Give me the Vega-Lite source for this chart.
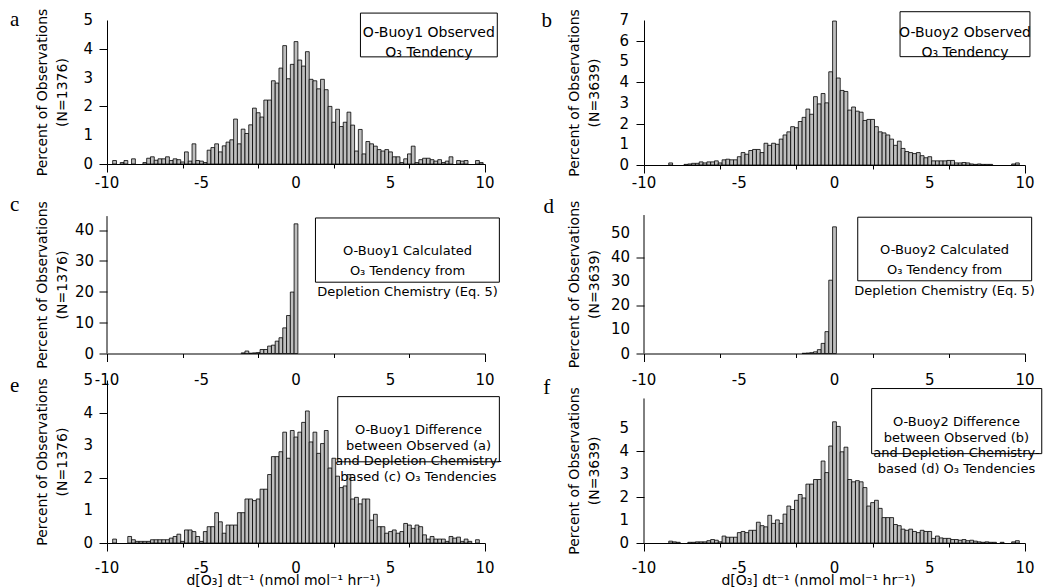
{
"$schema": "https://vega.github.io/schema/vega-lite/v6.json",
"padding": {"left": 10, "top": 8, "right": 0, "bottom": 0},
"background": "white",
"datasets": {"h": [
{"p":"a","x":-9.6,"pct":0.12},{"p":"a","x":-9.2,"pct":0.05},{"p":"a","x":-9.0,"pct":0.12},{"p":"a","x":-8.6,"pct":0.18},{"p":"a","x":-8.0,"pct":0.05},{"p":"a","x":-7.8,"pct":0.2},{"p":"a","x":-7.6,"pct":0.25},{"p":"a","x":-7.4,"pct":0.13},{"p":"a","x":-7.2,"pct":0.18},{"p":"a","x":-7.0,"pct":0.18},{"p":"a","x":-6.8,"pct":0.25},{"p":"a","x":-6.6,"pct":0.12},{"p":"a","x":-6.4,"pct":0.18},{"p":"a","x":-6.2,"pct":0.15},{"p":"a","x":-6.0,"pct":0.07},{"p":"a","x":-5.8,"pct":0.42},{"p":"a","x":-5.6,"pct":0.1},{"p":"a","x":-5.4,"pct":0.7},{"p":"a","x":-5.2,"pct":0.12},{"p":"a","x":-5.0,"pct":0.1},{"p":"a","x":-4.8,"pct":0.05},{"p":"a","x":-4.6,"pct":0.48},{"p":"a","x":-4.4,"pct":0.57},{"p":"a","x":-4.2,"pct":0.7},{"p":"a","x":-4.0,"pct":0.42},{"p":"a","x":-3.8,"pct":0.63},{"p":"a","x":-3.6,"pct":0.76},{"p":"a","x":-3.4,"pct":0.84},{"p":"a","x":-3.2,"pct":1.56},{"p":"a","x":-3.0,"pct":0.7},{"p":"a","x":-2.8,"pct":1.21},{"p":"a","x":-2.6,"pct":1.06},{"p":"a","x":-2.4,"pct":1.36},{"p":"a","x":-2.2,"pct":1.94},{"p":"a","x":-2.0,"pct":1.78},{"p":"a","x":-1.8,"pct":1.63},{"p":"a","x":-1.6,"pct":2.22},{"p":"a","x":-1.4,"pct":2.22},{"p":"a","x":-1.2,"pct":2.89},{"p":"a","x":-1.0,"pct":2.81},{"p":"a","x":-0.8,"pct":3.33},{"p":"a","x":-0.6,"pct":4.11},{"p":"a","x":-0.4,"pct":2.96},{"p":"a","x":-0.2,"pct":3.46},{"p":"a","x":0,"pct":4.25},{"p":"a","x":0.2,"pct":3.61},{"p":"a","x":0.4,"pct":3.4},{"p":"a","x":0.6,"pct":3.9},{"p":"a","x":0.8,"pct":2.94},{"p":"a","x":1.0,"pct":2.89},{"p":"a","x":1.2,"pct":2.61},{"p":"a","x":1.4,"pct":2.94},{"p":"a","x":1.6,"pct":2.58},{"p":"a","x":1.8,"pct":2.0},{"p":"a","x":2.0,"pct":1.45},{"p":"a","x":2.2,"pct":1.9},{"p":"a","x":2.4,"pct":1.3},{"p":"a","x":2.6,"pct":1.45},{"p":"a","x":2.8,"pct":1.8},{"p":"a","x":3.0,"pct":1.35},{"p":"a","x":3.2,"pct":0.45},{"p":"a","x":3.4,"pct":1.2},{"p":"a","x":3.6,"pct":0.35},{"p":"a","x":3.8,"pct":0.78},{"p":"a","x":4.0,"pct":0.7},{"p":"a","x":4.2,"pct":0.62},{"p":"a","x":4.4,"pct":0.5},{"p":"a","x":4.6,"pct":0.45},{"p":"a","x":4.8,"pct":0.5},{"p":"a","x":5.0,"pct":0.42},{"p":"a","x":5.2,"pct":0.25},{"p":"a","x":5.4,"pct":0.25},{"p":"a","x":5.6,"pct":0.05},{"p":"a","x":5.8,"pct":0.18},{"p":"a","x":6.0,"pct":0.35},{"p":"a","x":6.2,"pct":0.62},{"p":"a","x":6.4,"pct":0.05},{"p":"a","x":6.6,"pct":0.15},{"p":"a","x":6.8,"pct":0.2},{"p":"a","x":7.0,"pct":0.2},{"p":"a","x":7.2,"pct":0.15},{"p":"a","x":7.4,"pct":0.1},{"p":"a","x":7.6,"pct":0.15},{"p":"a","x":7.8,"pct":0.05},{"p":"a","x":8.0,"pct":0.1},{"p":"a","x":8.2,"pct":0.25},{"p":"a","x":8.6,"pct":0.12},{"p":"a","x":8.8,"pct":0.1},{"p":"a","x":9.0,"pct":0.12},{"p":"a","x":9.6,"pct":0.12},{"p":"a","x":9.8,"pct":0.05},
{"p":"b","x":-8.6,"pct":0.1},{"p":"b","x":-7.8,"pct":0.03},{"p":"b","x":-7.6,"pct":0.05},{"p":"b","x":-7.4,"pct":0.08},{"p":"b","x":-7.2,"pct":0.08},{"p":"b","x":-7.0,"pct":0.15},{"p":"b","x":-6.8,"pct":0.1},{"p":"b","x":-6.6,"pct":0.15},{"p":"b","x":-6.4,"pct":0.15},{"p":"b","x":-6.2,"pct":0.2},{"p":"b","x":-6.0,"pct":0.1},{"p":"b","x":-5.8,"pct":0.25},{"p":"b","x":-5.6,"pct":0.28},{"p":"b","x":-5.4,"pct":0.25},{"p":"b","x":-5.2,"pct":0.25},{"p":"b","x":-5.0,"pct":0.4},{"p":"b","x":-4.8,"pct":0.6},{"p":"b","x":-4.6,"pct":0.52},{"p":"b","x":-4.4,"pct":0.7},{"p":"b","x":-4.2,"pct":0.75},{"p":"b","x":-4.0,"pct":0.75},{"p":"b","x":-3.8,"pct":0.6},{"p":"b","x":-3.6,"pct":1.05},{"p":"b","x":-3.4,"pct":0.95},{"p":"b","x":-3.2,"pct":1.05},{"p":"b","x":-3.0,"pct":1.0},{"p":"b","x":-2.8,"pct":1.25},{"p":"b","x":-2.6,"pct":1.45},{"p":"b","x":-2.4,"pct":1.6},{"p":"b","x":-2.2,"pct":1.85},{"p":"b","x":-2.0,"pct":1.8},{"p":"b","x":-1.8,"pct":2.1},{"p":"b","x":-1.6,"pct":2.3},{"p":"b","x":-1.4,"pct":2.7},{"p":"b","x":-1.2,"pct":2.45},{"p":"b","x":-1.0,"pct":3.3},{"p":"b","x":-0.8,"pct":2.95},{"p":"b","x":-0.6,"pct":3.45},{"p":"b","x":-0.4,"pct":3.0},{"p":"b","x":-0.2,"pct":4.5},{"p":"b","x":0,"pct":6.95},{"p":"b","x":0.2,"pct":4.2},{"p":"b","x":0.4,"pct":3.6},{"p":"b","x":0.6,"pct":3.55},{"p":"b","x":0.8,"pct":2.65},{"p":"b","x":1.0,"pct":2.8},{"p":"b","x":1.2,"pct":2.6},{"p":"b","x":1.4,"pct":2.55},{"p":"b","x":1.6,"pct":2.15},{"p":"b","x":1.8,"pct":2.2},{"p":"b","x":2.0,"pct":2.2},{"p":"b","x":2.2,"pct":1.85},{"p":"b","x":2.4,"pct":1.6},{"p":"b","x":2.6,"pct":1.55},{"p":"b","x":2.8,"pct":1.45},{"p":"b","x":3.0,"pct":1.25},{"p":"b","x":3.2,"pct":0.95},{"p":"b","x":3.4,"pct":1.15},{"p":"b","x":3.6,"pct":0.8},{"p":"b","x":3.8,"pct":0.65},{"p":"b","x":4.0,"pct":0.6},{"p":"b","x":4.2,"pct":0.55},{"p":"b","x":4.4,"pct":0.6},{"p":"b","x":4.6,"pct":0.45},{"p":"b","x":4.8,"pct":0.35},{"p":"b","x":5.0,"pct":0.4},{"p":"b","x":5.2,"pct":0.2},{"p":"b","x":5.4,"pct":0.2},{"p":"b","x":5.6,"pct":0.2},{"p":"b","x":5.8,"pct":0.2},{"p":"b","x":6.0,"pct":0.22},{"p":"b","x":6.2,"pct":0.22},{"p":"b","x":6.4,"pct":0.1},{"p":"b","x":6.6,"pct":0.1},{"p":"b","x":6.8,"pct":0.12},{"p":"b","x":7.0,"pct":0.1},{"p":"b","x":7.2,"pct":0.05},{"p":"b","x":7.4,"pct":0.03},{"p":"b","x":7.6,"pct":0.05},{"p":"b","x":7.8,"pct":0.03},{"p":"b","x":8.0,"pct":0.03},{"p":"b","x":8.2,"pct":0.03},{"p":"b","x":9.4,"pct":0.05},{"p":"b","x":9.6,"pct":0.1},
{"p":"c","x":-2.8,"pct":0.2},{"p":"c","x":-2.6,"pct":0.8},{"p":"c","x":-2.4,"pct":0.1},{"p":"c","x":-2.2,"pct":0.2},{"p":"c","x":-2.0,"pct":0.3},{"p":"c","x":-1.8,"pct":1.3},{"p":"c","x":-1.6,"pct":1.3},{"p":"c","x":-1.4,"pct":2.4},{"p":"c","x":-1.2,"pct":2.7},{"p":"c","x":-1.0,"pct":4.0},{"p":"c","x":-0.8,"pct":5.1},{"p":"c","x":-0.6,"pct":8.3},{"p":"c","x":-0.4,"pct":12.3},{"p":"c","x":-0.2,"pct":19.9},{"p":"c","x":0,"pct":42.0},
{"p":"d","x":-1.6,"pct":0.1},{"p":"d","x":-1.4,"pct":0.2},{"p":"d","x":-1.2,"pct":0.35},{"p":"d","x":-1.0,"pct":0.7},{"p":"d","x":-0.8,"pct":1.6},{"p":"d","x":-0.6,"pct":4.2},{"p":"d","x":-0.4,"pct":9.1},{"p":"d","x":-0.2,"pct":30.5},{"p":"d","x":0,"pct":52.7},
{"p":"e","x":-9.6,"pct":0.12},{"p":"e","x":-8.8,"pct":0.2},{"p":"e","x":-8.6,"pct":0.1},{"p":"e","x":-8.4,"pct":0.05},{"p":"e","x":-8.2,"pct":0.05},{"p":"e","x":-8.0,"pct":0.05},{"p":"e","x":-7.8,"pct":0.05},{"p":"e","x":-7.6,"pct":0.1},{"p":"e","x":-7.4,"pct":0.1},{"p":"e","x":-7.2,"pct":0.1},{"p":"e","x":-7.0,"pct":0.1},{"p":"e","x":-6.8,"pct":0.1},{"p":"e","x":-6.6,"pct":0.15},{"p":"e","x":-6.4,"pct":0.2},{"p":"e","x":-6.2,"pct":0.27},{"p":"e","x":-6.0,"pct":0.05},{"p":"e","x":-5.8,"pct":0.4},{"p":"e","x":-5.6,"pct":0.4},{"p":"e","x":-5.4,"pct":0.35},{"p":"e","x":-5.2,"pct":0.2},{"p":"e","x":-5.0,"pct":0.05},{"p":"e","x":-4.8,"pct":0.35},{"p":"e","x":-4.6,"pct":0.5},{"p":"e","x":-4.4,"pct":0.5},{"p":"e","x":-4.2,"pct":0.93},{"p":"e","x":-4.0,"pct":0.65},{"p":"e","x":-3.8,"pct":0.3},{"p":"e","x":-3.6,"pct":0.55},{"p":"e","x":-3.4,"pct":0.55},{"p":"e","x":-3.2,"pct":0.55},{"p":"e","x":-3.0,"pct":0.93},{"p":"e","x":-2.8,"pct":0.93},{"p":"e","x":-2.6,"pct":1.35},{"p":"e","x":-2.4,"pct":1.35},{"p":"e","x":-2.2,"pct":1.3},{"p":"e","x":-2.0,"pct":1.35},{"p":"e","x":-1.8,"pct":1.65},{"p":"e","x":-1.6,"pct":1.65},{"p":"e","x":-1.4,"pct":2.1},{"p":"e","x":-1.2,"pct":2.65},{"p":"e","x":-1.0,"pct":2.65},{"p":"e","x":-0.8,"pct":2.8},{"p":"e","x":-0.6,"pct":3.4},{"p":"e","x":-0.4,"pct":2.6},{"p":"e","x":-0.2,"pct":3.45},{"p":"e","x":0,"pct":3.25},{"p":"e","x":0.2,"pct":3.4},{"p":"e","x":0.4,"pct":3.7},{"p":"e","x":0.6,"pct":4.05},{"p":"e","x":0.8,"pct":3.1},{"p":"e","x":1.0,"pct":3.4},{"p":"e","x":1.2,"pct":2.75},{"p":"e","x":1.4,"pct":3.05},{"p":"e","x":1.6,"pct":3.45},{"p":"e","x":1.8,"pct":2.3},{"p":"e","x":2.0,"pct":2.6},{"p":"e","x":2.2,"pct":2.05},{"p":"e","x":2.4,"pct":1.7},{"p":"e","x":2.6,"pct":1.75},{"p":"e","x":2.8,"pct":2.1},{"p":"e","x":3.0,"pct":1.35},{"p":"e","x":3.2,"pct":1.4},{"p":"e","x":3.4,"pct":1.2},{"p":"e","x":3.6,"pct":1.35},{"p":"e","x":3.8,"pct":1.35},{"p":"e","x":4.0,"pct":0.7},{"p":"e","x":4.2,"pct":0.88},{"p":"e","x":4.4,"pct":0.5},{"p":"e","x":4.6,"pct":0.5},{"p":"e","x":4.8,"pct":0.3},{"p":"e","x":5.0,"pct":0.35},{"p":"e","x":5.2,"pct":0.4},{"p":"e","x":5.4,"pct":0.3},{"p":"e","x":5.6,"pct":0.35},{"p":"e","x":5.8,"pct":0.6},{"p":"e","x":6.0,"pct":0.55},{"p":"e","x":6.2,"pct":0.45},{"p":"e","x":6.4,"pct":0.55},{"p":"e","x":6.6,"pct":0.5},{"p":"e","x":6.8,"pct":0.25},{"p":"e","x":7.0,"pct":0.12},{"p":"e","x":7.2,"pct":0.2},{"p":"e","x":7.4,"pct":0.12},{"p":"e","x":7.6,"pct":0.12},{"p":"e","x":7.8,"pct":0.12},{"p":"e","x":8.0,"pct":0.05},{"p":"e","x":8.2,"pct":0.2},{"p":"e","x":8.4,"pct":0.15},{"p":"e","x":8.6,"pct":0.18},{"p":"e","x":8.8,"pct":0.05},{"p":"e","x":9.0,"pct":0.12},{"p":"e","x":9.2,"pct":0.05},{"p":"e","x":9.6,"pct":0.1},
{"p":"f","x":-8.6,"pct":0.08},{"p":"f","x":-8.4,"pct":0.05},{"p":"f","x":-8.2,"pct":0.03},{"p":"f","x":-7.6,"pct":0.03},{"p":"f","x":-7.4,"pct":0.03},{"p":"f","x":-7.2,"pct":0.05},{"p":"f","x":-7.0,"pct":0.05},{"p":"f","x":-6.8,"pct":0.05},{"p":"f","x":-6.6,"pct":0.1},{"p":"f","x":-6.4,"pct":0.15},{"p":"f","x":-6.2,"pct":0.12},{"p":"f","x":-6.0,"pct":0.05},{"p":"f","x":-5.8,"pct":0.3},{"p":"f","x":-5.6,"pct":0.25},{"p":"f","x":-5.4,"pct":0.25},{"p":"f","x":-5.2,"pct":0.25},{"p":"f","x":-5.0,"pct":0.45},{"p":"f","x":-4.8,"pct":0.5},{"p":"f","x":-4.6,"pct":0.45},{"p":"f","x":-4.4,"pct":0.55},{"p":"f","x":-4.2,"pct":0.55},{"p":"f","x":-4.0,"pct":0.9},{"p":"f","x":-3.8,"pct":0.75},{"p":"f","x":-3.6,"pct":0.7},{"p":"f","x":-3.4,"pct":1.2},{"p":"f","x":-3.2,"pct":0.85},{"p":"f","x":-3.0,"pct":1.0},{"p":"f","x":-2.8,"pct":0.85},{"p":"f","x":-2.6,"pct":1.25},{"p":"f","x":-2.4,"pct":1.6},{"p":"f","x":-2.2,"pct":1.45},{"p":"f","x":-2.0,"pct":1.85},{"p":"f","x":-1.8,"pct":2.1},{"p":"f","x":-1.6,"pct":1.95},{"p":"f","x":-1.4,"pct":2.55},{"p":"f","x":-1.2,"pct":2.55},{"p":"f","x":-1.0,"pct":2.75},{"p":"f","x":-0.8,"pct":2.75},{"p":"f","x":-0.6,"pct":3.55},{"p":"f","x":-0.4,"pct":3.05},{"p":"f","x":-0.2,"pct":4.2},{"p":"f","x":0,"pct":5.25},{"p":"f","x":0.2,"pct":5.05},{"p":"f","x":0.4,"pct":3.95},{"p":"f","x":0.6,"pct":4.15},{"p":"f","x":0.8,"pct":2.75},{"p":"f","x":1.0,"pct":2.65},{"p":"f","x":1.2,"pct":2.7},{"p":"f","x":1.4,"pct":2.65},{"p":"f","x":1.6,"pct":2.4},{"p":"f","x":1.8,"pct":1.6},{"p":"f","x":2.0,"pct":1.75},{"p":"f","x":2.2,"pct":1.85},{"p":"f","x":2.4,"pct":1.5},{"p":"f","x":2.6,"pct":1.1},{"p":"f","x":2.8,"pct":1.1},{"p":"f","x":3.0,"pct":1.1},{"p":"f","x":3.2,"pct":0.8},{"p":"f","x":3.4,"pct":0.75},{"p":"f","x":3.6,"pct":0.6},{"p":"f","x":3.8,"pct":0.55},{"p":"f","x":4.0,"pct":0.6},{"p":"f","x":4.2,"pct":0.5},{"p":"f","x":4.4,"pct":0.45},{"p":"f","x":4.6,"pct":0.55},{"p":"f","x":4.8,"pct":0.5},{"p":"f","x":5.0,"pct":0.5},{"p":"f","x":5.2,"pct":0.2},{"p":"f","x":5.4,"pct":0.3},{"p":"f","x":5.6,"pct":0.22},{"p":"f","x":5.8,"pct":0.2},{"p":"f","x":6.0,"pct":0.2},{"p":"f","x":6.2,"pct":0.15},{"p":"f","x":6.4,"pct":0.15},{"p":"f","x":6.6,"pct":0.12},{"p":"f","x":6.8,"pct":0.15},{"p":"f","x":7.0,"pct":0.1},{"p":"f","x":7.2,"pct":0.12},{"p":"f","x":7.4,"pct":0.08},{"p":"f","x":7.6,"pct":0.05},{"p":"f","x":7.8,"pct":0.03},{"p":"f","x":8.0,"pct":0.05},{"p":"f","x":8.2,"pct":0.03},{"p":"f","x":8.4,"pct":0.03},{"p":"f","x":8.8,"pct":0.03},{"p":"f","x":9.4,"pct":0.05},{"p":"f","x":9.6,"pct":0.1}
], "one": [{}],
"xt": [{"v": -10}, {"v": -5}, {"v": 0}, {"v": 5}, {"v": 10}],
"y5": [{"v": 0}, {"v": 1}, {"v": 2}, {"v": 3}, {"v": 4}, {"v": 5}],
"y7": [{"v": 0}, {"v": 1}, {"v": 2}, {"v": 3}, {"v": 4}, {"v": 5}, {"v": 6}, {"v": 7}],
"y40": [{"v": 0}, {"v": 10}, {"v": 20}, {"v": 30}, {"v": 40}],
"y50": [{"v": 0}, {"v": 10}, {"v": 20}, {"v": 30}, {"v": 40}, {"v": 50}]
},
"spacing": 39,
"hconcat": [
{"bounds": "flush", "spacing": 26.5, "vconcat": [
 {"width": 378, "height": 144, "layer": [
  {"data": {"name": "h"}, "transform": [{"filter": "datum.p === 'a'"}], "mark": {"type": "bar", "width": 3.78, "fill": "#bebebe", "stroke": "black", "strokeWidth": 0.8},
   "encoding": {
    "x": {"field": "x", "type": "quantitative", "scale": {"domain": [-10, 10], "nice": false, "zero": false, "padding": 0},
      "axis": {"title": null, "labels": false, "values": [-10,-9,-8,-7,-6,-5,-4,-3,-2,-1,0,1,2,3,4,5,6,7,8,9,10], "tickSize": {"condition": {"test": "datum.value % 5 === 0", "value": 8}, "value": 4}}},
    "y": {"field": "pct", "type": "quantitative", "scale": {"domain": [0, 5], "nice": false},
      "axis": {"labels": false, "values": [0,1,2,3,4,5], "title": ["Percent of Observations", "(N=1376)"], "titleX": -61}}}},
  {"data": {"name": "xt"}, "mark": {"type": "text", "align": "center", "baseline": "top", "dy": 12, "font": "DejaVu Sans", "fontSize": 15}, "encoding": {"x": {"field": "v", "type": "quantitative"}, "y": {"datum": 0}, "text": {"field": "v", "type": "nominal"}}},
  {"data": {"name": "y5"}, "mark": {"type": "text", "align": "right", "baseline": "middle", "dx": -14, "font": "DejaVu Sans", "fontSize": 15}, "encoding": {"x": {"datum": -10}, "y": {"field": "v", "type": "quantitative"}, "text": {"field": "v", "type": "nominal"}}},
  {"data": {"name": "one"}, "mark": {"type": "rect", "filled": false, "stroke": "black", "strokeWidth": 1}, "encoding": {"x": {"datum": 3.41}, "x2": {"datum": 10.65}, "y": {"datum": 3.72}, "y2": {"datum": 5.24}}},
  {"data": {"name": "one"}, "mark": {"type": "text", "align": "center", "baseline": "middle", "lineHeight": 20, "font": "DejaVu Sans", "fontSize": 14}, "encoding": {"x": {"datum": 7.03}, "y": {"datum": 4.54}, "text": {"value": ["O-Buoy1 Observed", "O₃  Tendency"]}}},
  {"data": {"name": "one"}, "mark": {"type": "text", "align": "center", "baseline": "alphabetic", "font": "Liberation Serif", "fontSize": 21}, "encoding": {"x": {"datum": -14.88}, "y": {"datum": 4.79}, "text": {"value": "a"}}}
 ]},
 {"width": 378, "height": 163, "layer": [
  {"data": {"name": "h"}, "transform": [{"filter": "datum.p === 'c'"}], "mark": {"type": "bar", "width": 3.78, "fill": "#bebebe", "stroke": "black", "strokeWidth": 0.8},
   "encoding": {
    "x": {"field": "x", "type": "quantitative", "scale": {"domain": [-10, 10], "nice": false, "zero": false, "padding": 0},
      "axis": {"title": null, "labels": false, "values": [-10,-9,-8,-7,-6,-5,-4,-3,-2,-1,0,1,2,3,4,5,6,7,8,9,10], "tickSize": {"condition": {"test": "datum.value % 5 === 0", "value": 8}, "value": 4}}},
    "y": {"field": "pct", "type": "quantitative", "scale": {"domain": [0, 52.8], "nice": false},
      "axis": {"domain": false, "labels": false, "values": [0,10,20,30,40], "title": ["Percent of Observations", "(N=1376)"], "titleX": -61, "titleY": 94}}}},
  {"data": {"name": "xt"}, "mark": {"type": "text", "align": "center", "baseline": "top", "dy": 19, "font": "DejaVu Sans", "fontSize": 15}, "encoding": {"x": {"field": "v", "type": "quantitative"}, "y": {"datum": 0}, "text": {"field": "v", "type": "nominal"}}},
  {"data": {"name": "y40"}, "mark": {"type": "text", "align": "right", "baseline": "middle", "dx": -13, "font": "DejaVu Sans", "fontSize": 15}, "encoding": {"x": {"datum": -10}, "y": {"field": "v", "type": "quantitative"}, "text": {"field": "v", "type": "nominal"}}},
  {"data": {"name": "one"}, "mark": {"type": "rect", "filled": false, "stroke": "black", "strokeWidth": 1}, "encoding": {"x": {"datum": 1.03}, "x2": {"datum": 10.76}, "y": {"datum": 23.1}, "y2": {"datum": 43.9}}},
  {"data": {"name": "one"}, "mark": {"type": "rule", "color": "black", "strokeWidth": 1}, "encoding": {"x": {"datum": -10}, "y": {"datum": 0}, "y2": {"datum": 44.5}}},
  {"data": {"name": "one"}, "mark": {"type": "text", "align": "center", "baseline": "middle", "lineHeight": 20.5, "font": "DejaVu Sans", "fontSize": 13}, "encoding": {"x": {"datum": 5.9}, "y": {"datum": 33.3}, "text": {"value": ["O-Buoy1 Calculated", "O₃  Tendency from", "Depletion Chemistry (Eq. 5)"]}}},
  {"data": {"name": "one"}, "mark": {"type": "text", "align": "center", "baseline": "alphabetic", "font": "Liberation Serif", "fontSize": 21}, "encoding": {"x": {"datum": -14.88}, "y": {"datum": 46.1}, "text": {"value": "c"}}}
 ]},
 {"width": 378, "height": 163, "layer": [
  {"data": {"name": "h"}, "transform": [{"filter": "datum.p === 'e'"}], "mark": {"type": "bar", "width": 3.78, "fill": "#bebebe", "stroke": "black", "strokeWidth": 0.8},
   "encoding": {
    "x": {"field": "x", "type": "quantitative", "scale": {"domain": [-10, 10], "nice": false, "zero": false, "padding": 0},
      "axis": {"title": "d[O₃] dt⁻¹ (nmol mol⁻¹ hr⁻¹)", "titleX": 176, "titleY": 41, "titleBaseline": "alphabetic", "labels": false, "values": [-10,-9,-8,-7,-6,-5,-4,-3,-2,-1,0,1,2,3,4,5,6,7,8,9,10], "tickSize": {"condition": {"test": "datum.value % 5 === 0", "value": 8}, "value": 4}}},
    "y": {"field": "pct", "type": "quantitative", "scale": {"domain": [0, 5], "nice": false},
      "axis": {"labels": false, "values": [0,1,2,3,4,5], "title": ["Percent of Observations", "(N=1376)"], "titleX": -61}}}},
  {"data": {"name": "xt"}, "mark": {"type": "text", "align": "center", "baseline": "top", "dy": 18, "font": "DejaVu Sans", "fontSize": 15}, "encoding": {"x": {"field": "v", "type": "quantitative"}, "y": {"datum": 0}, "text": {"field": "v", "type": "nominal"}}},
  {"data": {"name": "y5"}, "mark": {"type": "text", "align": "right", "baseline": "middle", "dx": -14, "font": "DejaVu Sans", "fontSize": 15}, "encoding": {"x": {"datum": -10}, "y": {"field": "v", "type": "quantitative"}, "text": {"field": "v", "type": "nominal"}}},
  {"data": {"name": "one"}, "mark": {"type": "rect", "filled": false, "stroke": "black", "strokeWidth": 1}, "encoding": {"x": {"datum": 2.21}, "x2": {"datum": 10.76}, "y": {"datum": 2.49}, "y2": {"datum": 4.49}}},
  {"data": {"name": "one"}, "mark": {"type": "text", "align": "center", "baseline": "middle", "lineHeight": 15.5, "font": "DejaVu Sans", "fontSize": 13}, "encoding": {"x": {"datum": 6.48}, "y": {"datum": 3.46}, "text": {"value": ["O-Buoy1 Difference", "between Observed (a)", "and Depletion Chemistry-", "based (c) O₃ Tendencies"]}}},
  {"data": {"name": "one"}, "mark": {"type": "text", "align": "center", "baseline": "alphabetic", "font": "Liberation Serif", "fontSize": 21}, "encoding": {"x": {"datum": -14.88}, "y": {"datum": 4.63}, "text": {"value": "e"}}}
 ]}
]},
{"bounds": "flush", "spacing": 26.5, "vconcat": [
 {"width": 381, "height": 145, "layer": [
  {"data": {"name": "h"}, "transform": [{"filter": "datum.p === 'b'"}], "mark": {"type": "bar", "width": 3.81, "fill": "#bebebe", "stroke": "black", "strokeWidth": 0.8},
   "encoding": {
    "x": {"field": "x", "type": "quantitative", "scale": {"domain": [-10, 10], "nice": false, "zero": false, "padding": 0},
      "axis": {"title": null, "labels": false, "values": [-10,-9,-8,-7,-6,-5,-4,-3,-2,-1,0,1,2,3,4,5,6,7,8,9,10], "tickSize": {"condition": {"test": "datum.value % 5 === 0", "value": 8}, "value": 4}}},
    "y": {"field": "pct", "type": "quantitative", "scale": {"domain": [0, 7], "nice": false},
      "axis": {"labels": false, "values": [0,1,2,3,4,5,6,7], "title": ["Percent of Observations", "(N=3639)"], "titleX": -66}}}},
  {"data": {"name": "xt"}, "mark": {"type": "text", "align": "center", "baseline": "top", "dy": 11, "font": "DejaVu Sans", "fontSize": 15}, "encoding": {"x": {"field": "v", "type": "quantitative"}, "y": {"datum": 0}, "text": {"field": "v", "type": "nominal"}}},
  {"data": {"name": "y7"}, "mark": {"type": "text", "align": "right", "baseline": "middle", "dx": -15, "font": "DejaVu Sans", "fontSize": 15}, "encoding": {"x": {"datum": -10}, "y": {"field": "v", "type": "quantitative"}, "text": {"field": "v", "type": "nominal"}}},
  {"data": {"name": "one"}, "mark": {"type": "rect", "filled": false, "stroke": "black", "strokeWidth": 1}, "encoding": {"x": {"datum": 3.44}, "x2": {"datum": 10.26}, "y": {"datum": 5.23}, "y2": {"datum": 7.4}}},
  {"data": {"name": "one"}, "mark": {"type": "text", "align": "center", "baseline": "middle", "lineHeight": 20, "font": "DejaVu Sans", "fontSize": 14}, "encoding": {"x": {"datum": 6.85}, "y": {"datum": 6.36}, "text": {"value": ["O-Buoy2 Observed", "O₃  Tendency"]}}},
  {"data": {"name": "one"}, "mark": {"type": "text", "align": "center", "baseline": "alphabetic", "font": "Liberation Serif", "fontSize": 21}, "encoding": {"x": {"datum": -15.11}, "y": {"datum": 6.66}, "text": {"value": "b"}}}
 ]},
 {"width": 381, "height": 162, "layer": [
  {"data": {"name": "h"}, "transform": [{"filter": "datum.p === 'd'"}], "mark": {"type": "bar", "width": 3.81, "fill": "#bebebe", "stroke": "black", "strokeWidth": 0.8},
   "encoding": {
    "x": {"field": "x", "type": "quantitative", "scale": {"domain": [-10, 10], "nice": false, "zero": false, "padding": 0},
      "axis": {"title": null, "labels": false, "values": [-10,-9,-8,-7,-6,-5,-4,-3,-2,-1,0,1,2,3,4,5,6,7,8,9,10], "tickSize": {"condition": {"test": "datum.value % 5 === 0", "value": 8}, "value": 4}}},
    "y": {"field": "pct", "type": "quantitative", "scale": {"domain": [0, 67.4], "nice": false},
      "axis": {"domain": false, "labels": false, "values": [0,10,20,30,40,50], "title": ["Percent of Observations", "(N=3639)"], "titleX": -66, "titleY": 92.5}}}},
  {"data": {"name": "xt"}, "mark": {"type": "text", "align": "center", "baseline": "top", "dy": 19, "font": "DejaVu Sans", "fontSize": 15}, "encoding": {"x": {"field": "v", "type": "quantitative"}, "y": {"datum": 0}, "text": {"field": "v", "type": "nominal"}}},
  {"data": {"name": "y50"}, "mark": {"type": "text", "align": "right", "baseline": "middle", "dx": -14, "font": "DejaVu Sans", "fontSize": 15}, "encoding": {"x": {"datum": -10}, "y": {"field": "v", "type": "quantitative"}, "text": {"field": "v", "type": "nominal"}}},
  {"data": {"name": "one"}, "mark": {"type": "rect", "filled": false, "stroke": "black", "strokeWidth": 1}, "encoding": {"x": {"datum": 1.22}, "x2": {"datum": 10.35}, "y": {"datum": 30.25}, "y2": {"datum": 56.7}}},
  {"data": {"name": "one"}, "mark": {"type": "rule", "color": "black", "strokeWidth": 1}, "encoding": {"x": {"datum": -10}, "y": {"datum": 0}, "y2": {"datum": 57.6}}},
  {"data": {"name": "one"}, "mark": {"type": "text", "align": "center", "baseline": "middle", "lineHeight": 20.5, "font": "DejaVu Sans", "fontSize": 13}, "encoding": {"x": {"datum": 5.78}, "y": {"datum": 43.25}, "text": {"value": ["O-Buoy2 Calculated", "O₃  Tendency from", "Depletion Chemistry (Eq. 5)"]}}},
  {"data": {"name": "one"}, "mark": {"type": "text", "align": "center", "baseline": "alphabetic", "font": "Liberation Serif", "fontSize": 21}, "encoding": {"x": {"datum": -15.0}, "y": {"datum": 58.5}, "text": {"value": "d"}}}
 ]},
 {"width": 381, "height": 163, "layer": [
  {"data": {"name": "h"}, "transform": [{"filter": "datum.p === 'f'"}], "mark": {"type": "bar", "width": 3.81, "fill": "#bebebe", "stroke": "black", "strokeWidth": 0.8},
   "encoding": {
    "x": {"field": "x", "type": "quantitative", "scale": {"domain": [-10, 10], "nice": false, "zero": false, "padding": 0},
      "axis": {"title": "d[O₃] dt⁻¹ (nmol mol⁻¹ hr⁻¹)", "titleX": 174, "titleY": 41, "titleBaseline": "alphabetic", "labels": false, "values": [-10,-9,-8,-7,-6,-5,-4,-3,-2,-1,0,1,2,3,4,5,6,7,8,9,10], "tickSize": {"condition": {"test": "datum.value % 5 === 0", "value": 8}, "value": 4}}},
    "y": {"field": "pct", "type": "quantitative", "scale": {"domain": [0, 7.06], "nice": false},
      "axis": {"domain": false, "labels": false, "values": [0,1,2,3,4,5], "title": ["Percent of Observations", "(N=3639)"], "titleX": -66, "titleY": 90.4}}}},
  {"data": {"name": "xt"}, "mark": {"type": "text", "align": "center", "baseline": "top", "dy": 18, "font": "DejaVu Sans", "fontSize": 15}, "encoding": {"x": {"field": "v", "type": "quantitative"}, "y": {"datum": 0}, "text": {"field": "v", "type": "nominal"}}},
  {"data": {"name": "y5"}, "mark": {"type": "text", "align": "right", "baseline": "middle", "dx": -15, "font": "DejaVu Sans", "fontSize": 15}, "encoding": {"x": {"datum": -10}, "y": {"field": "v", "type": "quantitative"}, "text": {"field": "v", "type": "nominal"}}},
  {"data": {"name": "one"}, "mark": {"type": "rect", "filled": false, "stroke": "black", "strokeWidth": 1}, "encoding": {"x": {"datum": 1.95}, "x2": {"datum": 10.88}, "y": {"datum": 3.87}, "y2": {"datum": 6.69}}},
  {"data": {"name": "one"}, "mark": {"type": "rule", "color": "black", "strokeWidth": 1}, "encoding": {"x": {"datum": -10}, "y": {"datum": 0}, "y2": {"datum": 6.26}}},
  {"data": {"name": "one"}, "mark": {"type": "text", "align": "center", "baseline": "middle", "lineHeight": 15.5, "font": "DejaVu Sans", "fontSize": 13}, "encoding": {"x": {"datum": 6.4}, "y": {"datum": 5.23}, "text": {"value": ["O-Buoy2 Difference", "between Observed (b)", "and Depletion Chemistry-", "based (d) O₃ Tendencies"]}}},
  {"data": {"name": "one"}, "mark": {"type": "text", "align": "center", "baseline": "alphabetic", "font": "Liberation Serif", "fontSize": 21}, "encoding": {"x": {"datum": -15.11}, "y": {"datum": 6.44}, "text": {"value": "f"}}}
 ]}
]}
],
"config": {
 "view": {"stroke": null},
 "axis": {"grid": false, "domainColor": "black", "domainWidth": 1, "tickColor": "black", "tickWidth": 1, "titleColor": "black", "titleFont": "DejaVu Sans", "titleFontSize": 14, "titleFontWeight": "normal"},
 "axisY": {"tickSize": 8, "titleAngle": -90, "titleBaseline": "alphabetic", "titleAlign": "center", "titleLineHeight": 20},
 "axisX": {"titleAlign": "center"}
}
}
